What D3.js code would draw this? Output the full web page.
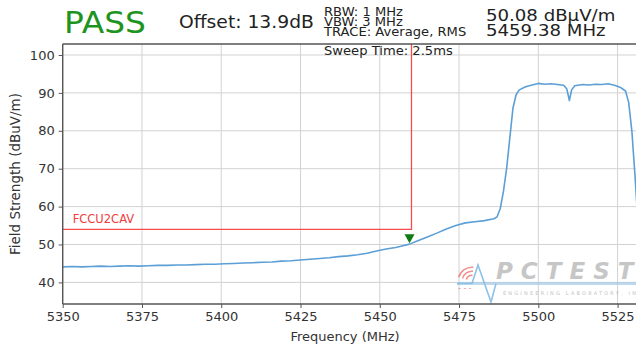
<!DOCTYPE html>
<html>
<head>
<meta charset="utf-8">
<script src="https://cdn.jsdelivr.net/npm/d3@7"></script>
<style>
  body { margin: 0; background: #fff; }
  svg { display: block; font-family: "DejaVu Sans", sans-serif; }
</style>
</head>
<body>
<svg id="chart" width="636" height="347"></svg>
<script>
// trace
var freqs = [5350, 5353, 5356, 5359, 5362, 5365, 5368, 5371, 5374, 5377, 5380, 5383, 5386, 5389, 5392,
  5395, 5398, 5401, 5404, 5407, 5410, 5413, 5416, 5419, 5422, 5425, 5428, 5431, 5434, 5437, 5440, 5443,
  5446, 5449, 5452, 5455, 5457, 5459.4, 5462, 5465, 5468, 5471, 5474, 5477, 5480, 5483, 5486, 5487,
  5488, 5489, 5490, 5491, 5492, 5493, 5494, 5496, 5498, 5500, 5502, 5504, 5506, 5508, 5509, 5509.8,
  5510.5, 5511.5, 5514, 5516, 5518, 5520, 5522, 5524, 5526, 5527.5, 5528.5, 5529.5, 5530.5, 5531.5, 5533];
var levels = [44.1, 44.2, 44.1, 44.2, 44.3, 44.2, 44.3, 44.4, 44.3, 44.4, 44.5, 44.5, 44.6, 44.6, 44.7,
  44.8, 44.8, 44.9, 45.0, 45.1, 45.2, 45.3, 45.4, 45.6, 45.7, 45.9, 46.1, 46.3, 46.5, 46.8, 47.0, 47.3,
  47.7, 48.3, 48.8, 49.2, 49.6, 50.1, 51.0, 52.0, 53.0, 54.1, 55.0, 55.7, 56.0, 56.3, 56.8, 57.3,
  59.5, 64.0, 70.0, 78.0, 86.0, 89.5, 90.8, 91.6, 92.1, 92.5, 92.3, 92.4, 92.2, 92.0, 91.0, 88.0,
  90.8, 91.9, 92.2, 92.1, 92.3, 92.2, 92.4, 92.0, 91.4, 90.5, 87.5, 80.0, 68.0, 55.0, 48.0];

var xTicks = [5350, 5375, 5400, 5425, 5450, 5475, 5500, 5525];
var yTicks = [40, 50, 60, 70, 80, 90, 100];

var limitName = "FCCU2CAV";
var limitLevel = 54;
var limitEnd = 5460;
var markerFreq = 5459.38;
var markerLevel = 50.08;

var headerLines = ["RBW: 1 MHz", "VBW: 3 MHz", "TRACE: Average, RMS", "", "Sweep Time: 2.5ms"];
var readout = ["50.08 dB\u00b5V/m", "5459.38 MHz"];

var svg = d3.select("#chart");

var x = d3.scaleLinear().domain([5350, 5545]).range([62.7, 681]);
var y = d3.scaleLinear().domain([34.3, 102.9]).range([304, 44]);

var plotL = x.range()[0], plotR = x.range()[1];
var plotT = y.range()[1], plotB = y.range()[0];

svg.append("defs").append("clipPath").attr("id", "clip")
  .append("rect").attr("x", plotL).attr("y", plotT)
  .attr("width", plotR - plotL).attr("height", plotB - plotT);

// grid
var grid = svg.append("g").attr("stroke", "#d2d2d2").attr("stroke-width", 1);
grid.selectAll(".gx").data(xTicks).enter().append("line")
  .attr("x1", d => x(d)).attr("x2", d => x(d))
  .attr("y1", plotT).attr("y2", plotB);
grid.selectAll(".gy").data(yTicks).enter().append("line")
  .attr("x1", plotL).attr("x2", plotR)
  .attr("y1", d => y(d)).attr("y2", d => y(d));

// PCTEST watermark
var logo = svg.append("g").attr("opacity", 0.75);
logo.append("line").attr("x1", 457).attr("x2", 640).attr("y1", 283.5).attr("y2", 283.5)
  .attr("stroke", "#a9cde9").attr("stroke-width", 3);
logo.append("path").attr("d", "M457,283.5 L472,283.5 L478,265 L491,302 L496,283.5")
  .attr("fill", "none").attr("stroke", "#6aaee0").attr("stroke-width", 1.6);
[5, 9, 13].forEach(function(r) {
  logo.append("path")
    .attr("d", d3.arc()({ innerRadius: r, outerRadius: r + 1.6, startAngle: -1.3, endAngle: 0.1 }))
    .attr("transform", "translate(472,281)")
    .attr("fill", "#ee6a6a");
});
logo.append("text").attr("x", 458).attr("y", 291).attr("font-size", 8).attr("fill", "#ee6a6a")
  .text("- - -");
logo.append("text").attr("x", 496).attr("y", 279).attr("font-size", 23).attr("font-weight", "bold")
  .attr("font-style", "italic").attr("letter-spacing", 8).attr("fill", "#b4b4b4").text("PCTEST");
logo.append("text").attr("x", 503).attr("y", 295).attr("font-size", 5).attr("letter-spacing", 2.2)
  .attr("fill", "#b0b0b0").text("ENGINEERING LABORATORY, INC.");

// trace
var pts = freqs.map((f, i) => [f, levels[i]]);
var line = d3.line().x(d => x(d[0])).y(d => y(d[1]));
svg.append("path").datum(pts)
  .attr("clip-path", "url(#clip)")
  .attr("d", line)
  .attr("fill", "none")
  .attr("stroke", "#5b9fd6")
  .attr("stroke-width", 1.6)
  .attr("stroke-linejoin", "round");

// limit line
svg.append("path")
  .attr("d", `M${x(5350)},${y(limitLevel)}H${x(limitEnd)}V${plotT}`)
  .attr("fill", "none").attr("stroke", "#f64c4c").attr("stroke-width", 1.3);
svg.append("text").attr("x", x(5350) + 10).attr("y", y(limitLevel) - 6)
  .attr("font-size", 11.5).attr("fill", "#f03c3c").text(limitName);

// marker
var mx = x(markerFreq), my = y(markerLevel);
svg.append("path")
  .attr("d", `M${mx - 5},${my - 10}L${mx + 5},${my - 10}L${mx},${my - 1}Z`)
  .attr("fill", "#0f7a12");

// axes frame
var frame = svg.append("g").attr("stroke", "#555").attr("stroke-width", 1.4);
frame.append("line").attr("x1", plotL).attr("x2", plotR).attr("y1", plotT).attr("y2", plotT);
frame.append("line").attr("x1", plotL).attr("x2", plotR).attr("y1", plotB).attr("y2", plotB);
frame.append("line").attr("x1", plotL).attr("x2", plotL).attr("y1", plotT).attr("y2", plotB);

var xAxis = svg.append("g").attr("transform", `translate(0,${plotB})`)
  .call(d3.axisBottom(x).tickValues(xTicks).tickFormat(d3.format("d")).tickSize(4).tickPadding(4));
var yAxis = svg.append("g").attr("transform", `translate(${plotL},0)`)
  .call(d3.axisLeft(y).tickValues(yTicks).tickSize(4).tickPadding(4));
[xAxis, yAxis].forEach(function(a) {
  a.select(".domain").remove();
  a.selectAll("line").attr("stroke", "#555");
  a.selectAll("text").attr("font-family", "DejaVu Sans").attr("font-size", 13).attr("fill", "#333");
});

svg.append("text").attr("x", 345).attr("y", 341).attr("text-anchor", "middle")
  .attr("font-size", 13).attr("fill", "#333").text("Frequency (MHz)");
svg.append("text").attr("transform", "translate(20,174) rotate(-90)").attr("text-anchor", "middle")
  .attr("font-size", 13.5).attr("fill", "#333").text("Field Strength (dBuV/m)");

// header (the reference text is slightly wide, so stretch it a little)
function wide(px, py, size, sx, color, txt) {
  return svg.append("text")
    .attr("transform", `translate(${px},${py}) scale(${sx},1)`)
    .attr("font-size", size).attr("fill", color).text(txt);
}
wide(64, 33, 31, 1.06, "#1e9420", "PASS");
wide(179, 28, 17.5, 1.07, "#222", "Offset: 13.9dB");
headerLines.forEach((d, i) => wide(324, 16 + i * 9.8, 11.5, 1.14, "#222", d));
readout.forEach((d, i) => wide(486, 21 + i * 15, 16.5, 1.1, "#222", d));
</script>
</body>
</html>
